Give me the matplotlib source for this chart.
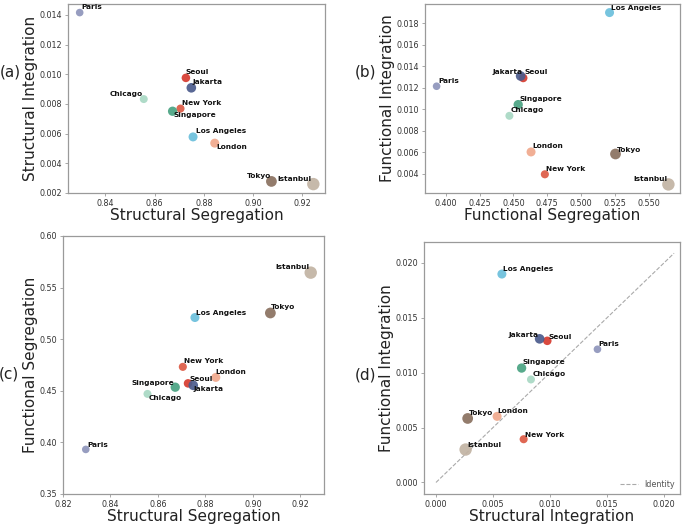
import matplotlib
matplotlib.use("Agg")
import matplotlib.pyplot as plt
import numpy as np

cities = ["Paris", "Seoul", "Jakarta", "Chicago", "New York", "Singapore",
          "Los Angeles", "London", "Tokyo", "Istanbul"]
structural_segregation = [0.8296, 0.8727, 0.8749, 0.8556, 0.8705, 0.8673,
                          0.8756, 0.8844, 0.9074, 0.9244]
structural_integration = [0.01416, 0.00976, 0.00909, 0.00833, 0.00769, 0.00751,
                          0.00578, 0.00536, 0.00278, 0.00260]
functional_segregation = [0.3932, 0.4572, 0.4553, 0.4470, 0.4732, 0.4535,
                          0.5210, 0.4630, 0.5254, 0.5645]
functional_integration = [0.01213, 0.01290, 0.01308, 0.00938, 0.00394, 0.01042,
                          0.01898, 0.00602, 0.00583, 0.00300]
marker_sizes = [30, 38, 48, 33, 34, 45, 42, 42, 60, 80]
colors = ["#8e95bb", "#d63a2e", "#4b5b8c", "#a8d8c4", "#dd5a44", "#4aa382",
          "#6bbfdc", "#f0a88c", "#8a7160", "#c2b3a3"]

R = "right"
L = "left"
offs_a = {"Paris": (1, 4, L), "Seoul": (0, 4, L), "Jakarta": (1, 4, L), "Chicago": (-1, 4, R),
          "New York": (1, 4, L), "Singapore": (1, -3, L), "Los Angeles": (2, 4, L),
          "London": (1, -3, L), "Tokyo": (0, 4, R), "Istanbul": (-1, 4, R)}
offs_b = {"Paris": (1, 4, L), "Seoul": (1, 4, L), "Jakarta": (1, 3, R), "Chicago": (1, 4, L),
          "New York": (1, 4, L), "Singapore": (1, 4, L), "Los Angeles": (1, 3, L),
          "London": (1, 4, L), "Tokyo": (1, 3, L), "Istanbul": (-1, 4, R)}
offs_c = {"Paris": (1, 3, L), "Seoul": (1, 3, L), "Jakarta": (0, -3, L), "Chicago": (1, -3, L),
          "New York": (1, 4, L), "Singapore": (-1, 3, R), "Los Angeles": (1, 3, L),
          "London": (0, 4, L), "Tokyo": (0, 4, L), "Istanbul": (-1, 4, R)}
offs_d = {"Paris": (1, 4, L), "Seoul": (1, 3, L), "Jakarta": (-1, 3, R), "Chicago": (1, 4, L),
          "New York": (1, 3, L), "Singapore": (1, 4, L), "Los Angeles": (1, 4, L),
          "London": (0, 4, L), "Tokyo": (1, 4, L), "Istanbul": (1, 3, L)}

fig = plt.figure(figsize=(6.85, 5.25), dpi=100)
W, H = 685.0, 525.0

def rect(l, r, t, b):
    return [l / W, 1 - b / H, (r - l) / W, (b - t) / H]

def style_axes(ax):
    for s in ax.spines.values():
        s.set_color("#9a9a9a")
        s.set_linewidth(0.9)
    ax.tick_params(axis="both", labelsize=5.8, colors="#9a9a9a", labelcolor="#333333",
                   length=2.5, width=0.6, pad=1.5)

def panel(r, x, y, xlabel, ylabel, offs, tag, tagpos):
    ax = fig.add_axes(r)
    ax.scatter(x, y, s=marker_sizes, c=colors, alpha=0.92, linewidths=0, zorder=3)
    for i, name in enumerate(cities):
        dx, dy, ha = offs[name]
        ax.annotate(name, (x[i], y[i]), xytext=(dx, dy), textcoords="offset points",
                    ha=ha, va="center", fontsize=5.3, fontweight="bold", color="#111111",
                    zorder=4)
    ax.set_xlabel(xlabel, fontsize=11, color="#222222", labelpad=0.5)
    ax.set_ylabel(ylabel, fontsize=11, color="#222222", labelpad=1)
    style_axes(ax)
    fig.text(tagpos[0] / W, 1 - tagpos[1] / H, tag, fontsize=11, ha="center", va="center",
             color="#222222")
    return ax

ax_a = panel(rect(68, 325, 4, 193), structural_segregation, structural_integration,
             "Structural Segregation", "Structural Integration", offs_a, "(a)", (10, 72))
ax_a.set_yticks([0.002, 0.004, 0.006, 0.008, 0.010, 0.012, 0.014])

ax_b = panel(rect(425, 680, 4, 193), functional_segregation, functional_integration,
             "Functional Segregation", "Functional Integration", offs_b, "(b)", (365, 72))
ax_b.set_xticks([0.400, 0.425, 0.450, 0.475, 0.500, 0.525, 0.550])

ax_c = panel(rect(63, 324, 236, 494), structural_segregation, functional_segregation,
             "Structural Segregation", "Functional Segregation", offs_c, "(c)", (9, 374))
ax_c.set_xlim(0.82, 0.93)
ax_c.set_ylim(0.35, 0.60)

ax_d = panel(rect(424, 680, 242, 494), structural_integration, functional_integration,
             "Structural Integration", "Functional Integration", offs_d, "(d)", (365, 375))
lim_top = max(max(structural_integration), max(functional_integration)) * 1.1
ax_d.plot([0, lim_top], [0, lim_top], ls="--", color="#aaaaaa", lw=0.8, label="Identity", zorder=1)
ax_d.set_xlim(-0.00105, 0.0214)
ax_d.set_ylim(-0.00105, 0.0219)
ticks_d = [0.0, 0.005, 0.010, 0.015, 0.020]
ax_d.set_xticks(ticks_d)
ax_d.set_yticks(ticks_d)
ax_d.set_xticklabels([f"{t:.3f}" for t in ticks_d])
ax_d.set_yticklabels([f"{t:.3f}" for t in ticks_d])
leg = ax_d.legend(loc="lower right", frameon=False, fontsize=5.8, handlelength=2.2,
                  borderaxespad=0.2)
for t in leg.get_texts():
    t.set_color("#555555")

fig.savefig("out.png", dpi=100)
